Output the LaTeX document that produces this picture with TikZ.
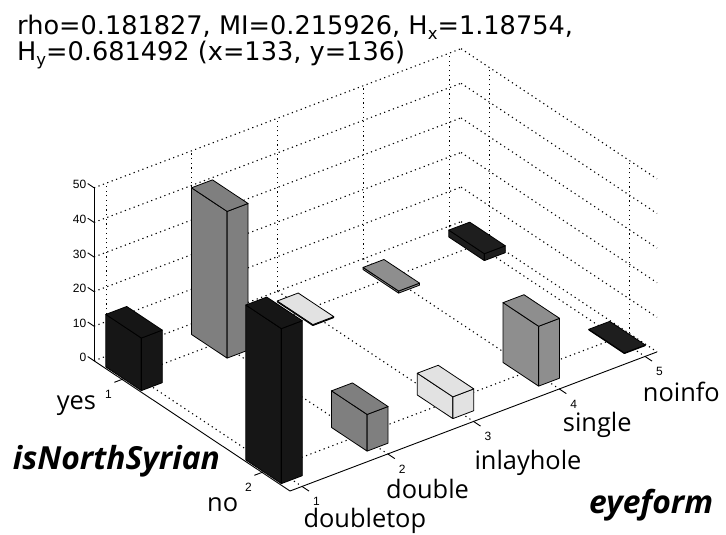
\documentclass[tikz,border=0pt]{standalone}
\usepackage{fontspec}
\setmainfont{Open Sans}
\newfontfamily\titlefont{DejaVu Sans}
\newfontfamily\tickfont{Liberation Sans}
\newfontfamily\labfont{Open Sans}
\definecolor{barblack}{HTML}{161616}
\definecolor{barblackb}{HTML}{1E1E1E}
\definecolor{bargray}{HTML}{7F7F7F}
\definecolor{bargrayb}{HTML}{8E8E8E}
\definecolor{barlight}{HTML}{E2E2E2}
\tikzset{
  gridline/.style={line width=1.1pt, dash pattern=on 1.2pt off 3.5pt, black},
  axisline/.style={line width=0.9pt, black},
  barface/.style={draw=black, line width=0.8pt, line join=round},
  ticklab/.style={font=\tickfont\fontsize{12}{12}\selectfont, inner sep=0pt},
  catlab/.style={font=\labfont\fontsize{25.4}{25.4}\selectfont, inner sep=0pt, anchor=base west},
  varlab/.style={font=\labfont\bfseries\itshape\fontsize{31.8}{31.8}\selectfont, inner sep=0pt, anchor=base west},
  titlelab/.style={font=\titlefont\fontsize{25.6}{25.6}\selectfont, inner sep=0pt, anchor=base west},
}
\newcommand\barbox[4]{%
  \draw[barface, fill=#4] ({#1-0.122},{#2-0.127},0) -- ({#1-0.122},{#2+0.127},0) -- ({#1-0.122},{#2+0.127},#3) -- ({#1-0.122},{#2-0.127},#3) -- cycle;
  \draw[barface, fill=#4] ({#1-0.122},{#2+0.127},0) -- ({#1+0.122},{#2+0.127},0) -- ({#1+0.122},{#2+0.127},#3) -- ({#1-0.122},{#2+0.127},#3) -- cycle;
  \draw[barface, fill=#4] ({#1-0.122},{#2-0.127},#3) -- ({#1+0.122},{#2-0.127},#3) -- ({#1+0.122},{#2+0.127},#3) -- ({#1-0.122},{#2+0.127},#3) -- cycle;
}
\newcommand\subtxt[1]{\raisebox{-4.5pt}{\fontsize{16.5}{16.5}\selectfont #1}}
\begin{document}
\begin{tikzpicture}
\useasboundingbox (0,0) rectangle (726pt,535pt);
\fill[white] (0,0) rectangle (726pt,535pt);
\begin{scope}[shift={(-91.7pt,220.65pt)}, x={(85.75pt,32.5pt)}, y={(140pt,-93pt)}, z={(0pt,3.46pt)}]
  % named corners
  \coordinate (cleft) at (0.86,0.8,0);
  \coordinate (cfront) at (0.86,2.2,0);
  \coordinate (cright) at (5.14,2.2,0);
  \coordinate (ctop) at (0.86,0.8,50);
  % floor grid
  \foreach \k in {1,...,5} \draw[gridline] (\k,0.8,0) -- (\k,2.2,0);
  \foreach \k in {1,2} \draw[gridline] (0.86,\k,0) -- (5.14,\k,0);
  % left wall
  \foreach \k in {1,...,5} \draw[gridline] (\k,0.8,0) -- (\k,0.8,50);
  \foreach \m in {0,10,...,50} \draw[gridline] (0.86,0.8,\m) -- (5.14,0.8,\m);
  % right wall
  \foreach \k in {1,2} \draw[gridline] (5.14,\k,0) -- (5.14,\k,50);
  \foreach \m in {0,10,...,50} \draw[gridline] (5.14,0.8,\m) -- (5.14,2.2,\m);
  % axes
  \draw[axisline] (cleft) -- (ctop);
  \draw[axisline] (cleft) -- (cfront);
  \draw[axisline] (cfront) -- (cright);
  % ticks and tick labels
  \foreach \m in {0,10,...,50} {
    \draw[axisline] (0.86,0.8,\m) -- (0.86,0.755,\m);
    \node[ticklab, anchor=east, xshift=-7.5pt, yshift=3pt] (zl\m) at (0.86,0.8,\m) {\m};
  }
  \foreach \k in {1,...,5} {
    \draw[axisline] (\k,2.2,0) -- (\k,2.25,0);
    \node[ticklab, xshift=14.5pt, yshift=-15pt] (xl\k) at (\k,2.2,0) {\k};
  }
  \foreach \k in {1,2} {
    \draw[axisline] (0.86,\k,0) -- (0.77,\k,0);
    \node[ticklab, xshift=-13.7pt, yshift=-14.5pt] (yl\k) at (0.86,\k,0) {\k};
  }
  % bars, back to front
  \barbox{5}{1}{2.0}{barblackb}
  \barbox{4}{1}{0.6}{bargrayb}
  \barbox{3}{1}{0.3}{barlight}
  \barbox{2}{1}{42.4}{bargray}
  \barbox{1}{1}{15.2}{barblack}
  \barbox{5}{2}{0.2}{barblackb}
  \barbox{4}{2}{17.3}{bargrayb}
  \barbox{3}{2}{6.3}{barlight}
  \barbox{2}{2}{10.6}{bargray}
  \barbox{1}{2}{44.8}{barblack}
\end{scope}
% title
\node[titlelab] (title1) at (17pt,500pt) {rho=0.181827, MI=0.215926, H\subtxt{x}=1.18754,};
\node[titlelab] (title2) at (17pt,474.3pt) {H\subtxt{y}=0.681492 (x=133, y=136)};
% category labels
\node[catlab] (lyes) at (56.7pt,125pt) {yes};
\node[catlab] (lno) at (207pt,23.3pt) {no};
\node[catlab] (ldoubletop) at (303.3pt,7pt) {doubletop};
\node[catlab] (ldouble) at (386pt,36pt) {double};
\node[catlab] (linlay) at (474.3pt,65pt) {inlayhole};
\node[catlab] (lsingle) at (562.7pt,103.3pt) {single};
\node[catlab] (lnoinfo) at (642.7pt,133.3pt) {noinfo};
% variable labels
\node[varlab] (lsyr) at (12.7pt,65.7pt) {isNorthSyrian};
\node[varlab] (leye) at (589pt,21.7pt) {eyeform};
\end{tikzpicture}
\end{document}
